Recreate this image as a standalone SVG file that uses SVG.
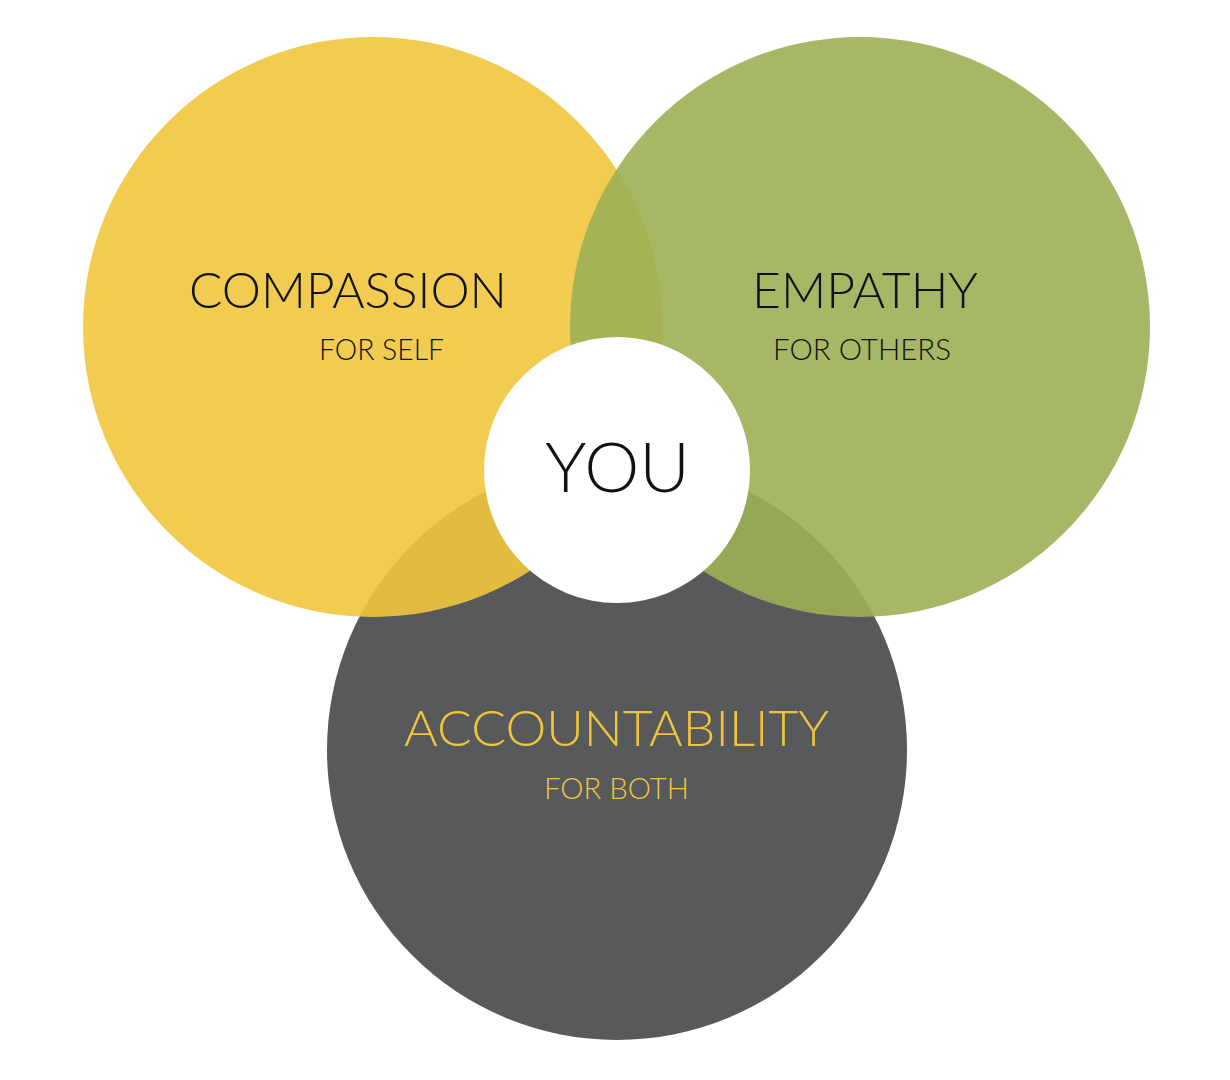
<svg xmlns="http://www.w3.org/2000/svg" width="1230" height="1080" viewBox="0 0 1230 1080">
<style>
.t{font-family:Lato,"Open Sans","Liberation Sans",sans-serif;font-weight:300;text-anchor:start}
.dark{fill:#111111}
.gold{fill:#f0c53b}
</style>
<rect width="1230" height="1080" fill="#ffffff"/>
<g id="accountability">
<circle cx="617" cy="750" r="290" fill="#58595b"/>
</g>
<g id="compassion">
<circle cx="373" cy="327" r="290" fill="#f1c73e" fill-opacity="0.9"/>
</g>
<g id="empathy">
<circle cx="860" cy="327" r="290" fill="#9cb054" fill-opacity="0.9"/>
</g>
<g id="you">
<circle cx="617" cy="470" r="133" fill="#ffffff"/>
<text class="t dark" x="545" y="492" font-size="68" textLength="145" lengthAdjust="spacingAndGlyphs">YOU</text>
</g>
<g id="labels">
<text class="t dark" x="189" y="308" font-size="50" textLength="318" lengthAdjust="spacingAndGlyphs">COMPASSION</text>
<text class="t dark" x="319" y="360" font-size="30" textLength="125" lengthAdjust="spacingAndGlyphs">FOR SELF</text>
<text class="t dark" x="752" y="308" font-size="50" textLength="226" lengthAdjust="spacingAndGlyphs">EMPATHY</text>
<text class="t dark" x="773" y="360" font-size="30" textLength="178" lengthAdjust="spacingAndGlyphs">FOR OTHERS</text>
<text class="t gold" x="404" y="746" font-size="50" textLength="425" lengthAdjust="spacingAndGlyphs">ACCOUNTABILITY</text>
<text class="t gold" x="544" y="799" font-size="30" textLength="145" lengthAdjust="spacingAndGlyphs">FOR BOTH</text>
</g>
<g id="connectors"></g>
</svg>
